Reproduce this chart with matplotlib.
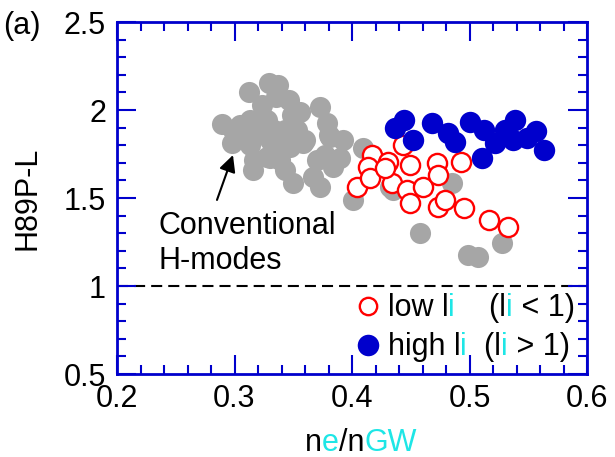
import matplotlib
matplotlib.use('Agg')
import matplotlib.pyplot as plt
from matplotlib.ticker import MultipleLocator
from matplotlib.offsetbox import TextArea, HPacker, DrawingArea, AnnotationBbox
from matplotlib.lines import Line2D

plt.rcParams['font.family'] = ['Liberation Sans', 'DejaVu Sans']

# ---------------- data ----------------
conv_x = [0.289, 0.299, 0.298, 0.312, 0.329, 0.337, 0.323, 0.346, 0.349, 0.353,
          0.328, 0.322, 0.339, 0.347, 0.317, 0.316, 0.307, 0.373, 0.380, 0.343,
          0.350, 0.370, 0.367, 0.377, 0.384, 0.373, 0.379, 0.381, 0.392, 0.409,
          0.390, 0.401, 0.432, 0.458, 0.485, 0.435, 0.499, 0.507, 0.528, 0.335,
          0.356, 0.330, 0.313, 0.313, 0.330, 0.343, 0.358, 0.334, 0.305, 0.360,
          0.328, 0.339]
conv_y = [1.920, 1.886, 1.812, 2.102, 2.153, 2.142, 2.028, 2.057, 1.972, 1.886,
          1.943, 1.869, 1.812, 1.790, 1.716, 1.659, 1.847, 2.017, 1.858, 1.659,
          1.585, 1.716, 1.619, 1.744, 1.676, 1.563, 1.926, 1.847, 1.830, 1.784,
          1.727, 1.489, 1.563, 1.301, 1.585, 1.545, 1.176, 1.165, 1.244, 2.074,
          1.989, 1.830, 1.943, 1.801, 1.727, 1.886, 1.812, 1.886, 1.915, 1.830,
          1.733, 1.716]

low_x = [0.443, 0.417, 0.431, 0.414, 0.449, 0.472, 0.493, 0.404, 0.415, 0.434,
         0.447, 0.460, 0.449, 0.473, 0.479, 0.495, 0.517, 0.533, 0.428, 0.473]
low_y = [1.801, 1.744, 1.705, 1.676, 1.688, 1.699, 1.705, 1.563, 1.614, 1.585,
         1.545, 1.563, 1.472, 1.449, 1.489, 1.443, 1.375, 1.335, 1.670, 1.631]

high_x = [0.437, 0.444, 0.452, 0.468, 0.482, 0.488, 0.500, 0.512, 0.511, 0.522,
          0.530, 0.539, 0.537, 0.549, 0.557, 0.563]
high_y = [1.898, 1.943, 1.830, 1.926, 1.869, 1.818, 1.932, 1.886, 1.727, 1.813,
          1.886, 1.943, 1.830, 1.841, 1.881, 1.773]

x_ticks = [0.2, 0.3, 0.4, 0.5, 0.6]
x_ticklabels = ['0.2', '0.3', '0.4', '0.5', '0.6']
y_ticks = [0.5, 1.0, 1.5, 2.0, 2.5]
y_ticklabels = ['0.5', '1', '1.5', '2', '2.5']
ref_level = 1.0

arrow_head = (0.2987, 1.744)
arrow_tail = (0.2851, 1.489)
label_pos = (0.2349, 1.426)

# ---------------- style ----------------
BLUE = '#0000cc'
GREY = '#a6a6a6'
RED = '#ff0000'
CYAN = '#1ee6e6'
FS = 22

fig = plt.figure(figsize=(6.15, 4.57), dpi=100)
ax = fig.add_axes([117/615, 1 - 374/457, 470/615, 352/457])

ax.plot(conv_x, conv_y, 'o', ms=15.2, color=GREY, mec='none', zorder=2)
ax.plot(low_x, low_y, 'o', ms=13.8, mfc='white', mec=RED, mew=1.7, zorder=3)
ax.plot(high_x, high_y, 'o', ms=15.4, color=BLUE, mec='none', zorder=4)

ax.axhline(ref_level, color='k', lw=1.5, ls=(0, (5.3, 2.9)), zorder=1)

ax.set_xlim(0.2, 0.6)
ax.set_ylim(0.5, 2.5)
ax.set_xticks(x_ticks)
ax.set_xticklabels(x_ticklabels)
ax.set_yticks(y_ticks)
ax.set_yticklabels(y_ticklabels)
ax.xaxis.set_minor_locator(MultipleLocator(0.02))
ax.yaxis.set_minor_locator(MultipleLocator(0.1))
ax.tick_params(which='both', direction='in', top=True, right=True,
               color=BLUE, width=1.5, labelsize=FS)
ax.tick_params(which='major', length=13.7)
ax.tick_params(which='minor', length=6.8)
ax.tick_params(axis='y', pad=8)
ax.tick_params(axis='x', pad=7)
for s in ax.spines.values():
    s.set_color(BLUE)
    s.set_linewidth(2)

ax.set_ylabel('H89P-L', fontsize=FS)
ax.yaxis.set_label_coords(-0.158, 0.5)

# arrow + annotation
ax.annotate('', xy=arrow_head, xytext=arrow_tail,
            arrowprops=dict(arrowstyle='-|>', color='k', lw=1.5,
                            mutation_scale=25, shrinkA=0, shrinkB=0))
ax.text(label_pos[0], label_pos[1], 'Conventional\nH-modes', fontsize=FS,
        ha='left', va='top', linespacing=1.2)

fig.text(3/615, 1 - 34/457, '(a)', fontsize=FS, ha='left', va='baseline')


def multicolor(pieces):
    return [TextArea(t, textprops=dict(color=c, fontsize=FS)) for t, c in pieces]


def marker_box(**mk):
    da = DrawingArea(20, 16, 0, 0)
    da.add_artist(Line2D([5.8], [6.8], marker='o', ls='none', **mk))
    return da


# x label
xl = HPacker(children=multicolor([('n', 'k'), ('e', CYAN), ('/n', 'k'), ('GW', CYAN)]),
             align='baseline', pad=0, sep=0)
ax.add_artist(AnnotationBbox(xl, ((361-117)/470, -0.240), xycoords='axes fraction',
                             box_alignment=(0.5, 0), frameon=False, pad=0))

# legend rows
row1 = HPacker(children=[marker_box(ms=12.5, mfc='white', mec=RED, mew=1.7)] +
               multicolor([('low l', 'k'), ('i', CYAN), ('    (l', 'k'), ('i', CYAN), (' < 1)', 'k')]),
               align='baseline', pad=0, sep=0)
row2 = HPacker(children=[marker_box(ms=15.5, color=BLUE, mec='none')] +
               multicolor([('high l', 'k'), ('i', CYAN), ('  (l', 'k'), ('i', CYAN), (' > 1)', 'k')]),
               align='baseline', pad=0, sep=0)
ax.add_artist(AnnotationBbox(row1, (0.517, 0.146), xycoords='axes fraction',
                             box_alignment=(0, 0), frameon=False, pad=0))
ax.add_artist(AnnotationBbox(row2, (0.517, 0.0355), xycoords='axes fraction',
                             box_alignment=(0, 0), frameon=False, pad=0))

fig.savefig('out.png', dpi=100)
